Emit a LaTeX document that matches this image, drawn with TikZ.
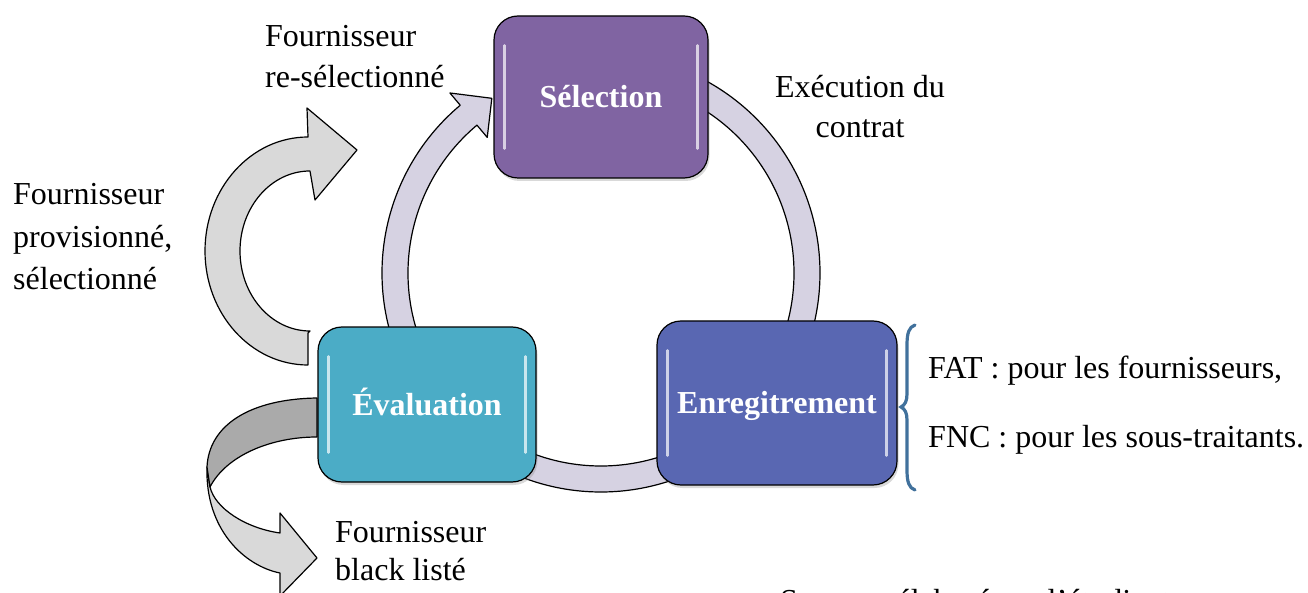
\documentclass[tikz,border=0pt]{standalone}
\usepackage{fontspec}
\setmainfont{Liberation Serif}
\usetikzlibrary{shadows}
\definecolor{selcol}{RGB}{128,100,162}
\definecolor{evalcol}{RGB}{75,172,198}
\definecolor{enrcol}{RGB}{89,103,178}
\definecolor{ringcol}{RGB}{214,210,226}
\definecolor{lgray}{RGB}{217,217,217}
\definecolor{dgray}{RGB}{170,170,170}
\definecolor{bracecol}{RGB}{65,113,156}
\begin{document}
\begin{tikzpicture}[x=1pt,y=-1pt,
  ring/.style={fill=ringcol, draw=black, line width=1.2pt, line join=round},
  sidearrow/.style={fill=lgray, draw=black, line width=1.2pt, line join=round},
  box/.style={draw=black, line width=1.2pt, rounded corners=24pt, text=white,
    font=\fontsize{32}{38}\selectfont\bfseries, text height=21pt, text depth=0pt,
    inner sep=0pt, drop shadow={shadow xshift=1.5pt, shadow yshift=-3pt, opacity=0.3}},
  lbl/.style={anchor=base west, inner sep=0pt, font=\fontsize{32}{38}\selectfont},
  clbl/.style={anchor=base, inner sep=0pt, font=\fontsize{32}{38}\selectfont},
  hl/.style={white, opacity=0.7, line width=2.5pt, line cap=round}]
\useasboundingbox (0,0) rectangle (1308,593);
\clip (0,0) rectangle (1308,593);

% ring arrows of the cycle
\begin{scope}[shift={(601,273)}]
  \filldraw[ring] (155:219) arc[start angle=155, end angle=230, radius=219]
    -- (230:235) -- (238:206) -- (230:177) -- (230:193)
    arc[start angle=230, end angle=155, radius=193] -- cycle;
  \filldraw[ring] (285:219) arc[start angle=285, end angle=380, radius=219]
    -- (380:235) -- (395:206) -- (380:177) -- (380:193)
    arc[start angle=380, end angle=285, radius=193] -- cycle;
  \filldraw[ring] (50:219) arc[start angle=50, end angle=122, radius=219]
    -- (122:235) -- (137:206) -- (122:177) -- (122:193)
    arc[start angle=122, end angle=50, radius=193] -- cycle;
\end{scope}

% side arrow: re-selected
\filldraw[sidearrow] (308,333) -- (308,365)
  arc[start angle=90, end angle=270, x radius=103, y radius=114]
  -- (307,108) -- (357,150) -- (315,200) -- (310,171)
  arc[start angle=270, end angle=90, x radius=70, y radius=80] -- cycle;

% side arrow: black listed (twisted ribbon)
\filldraw[sidearrow] (207,467) .. controls (205,530) and (245,566) .. (280,573)
  -- (280,596) -- (317,558) -- (280,513) -- (280,533)
  .. controls (245,528) and (215,508) .. (210,487) -- cycle;
\filldraw[sidearrow, fill=dgray] (317,398) .. controls (250,399) and (209,425) .. (207,467)
  -- (210,487) .. controls (226,456) and (270,437) .. (317,437) -- cycle;

% boxes
\node[box, fill=selcol, minimum width=214pt, minimum height=162pt] (sel) at (601,97) {Sélection};
\node[box, fill=evalcol, minimum width=218pt, minimum height=155pt] (eval) at (427,404.5) {Évaluation};
\node[box, fill=enrcol, minimum width=240pt, minimum height=164pt] (enr) at (777,403) {Enregitrement};

\foreach \n in {sel,eval,enr}{
  \draw[hl] ([xshift=11pt,yshift=-30pt]\n.north west) -- ([xshift=11pt,yshift=30pt]\n.south west);
  \draw[hl] ([xshift=-11pt,yshift=-30pt]\n.north east) -- ([xshift=-11pt,yshift=30pt]\n.south east);
}

% labels
\node[lbl] (t1a) at (265,47) {Fournisseur};
\node[lbl] (t1b) at (265,88) {re-sélectionné};
\node[lbl] (t2a) at (13,205) {Fournisseur};
\node[lbl] (t2b) at (13,248) {provisionné,};
\node[lbl] (t2c) at (13,290) {sélectionné};
\node[clbl] (t3a) at (860,98) {Exécution du};
\node[clbl] (t3b) at (860,138) {contrat};
\node[lbl] (t4a) at (335,542) {Fournisseur};
\node[lbl] (t4b) at (335,580) {black listé};
\node[lbl] (t5a) at (928,378) {FAT : pour les fournisseurs,};
\node[lbl] (t5b) at (928,447) {FNC : pour les sous-traitants.};
\node[lbl] (src) at (780,611) {Source : élaboré par l'étudiant};

% brace
\draw[bracecol, line width=3.2pt, line cap=round]
  (915,325) .. controls (909,327) and (907,333) .. (907,345) -- (907,394)
  .. controls (907,401) and (905,405) .. (901,407)
  .. controls (905,409) and (907,413) .. (907,420) -- (907,470)
  .. controls (907,482) and (909,488) .. (915,490);
\end{tikzpicture}
\end{document}
